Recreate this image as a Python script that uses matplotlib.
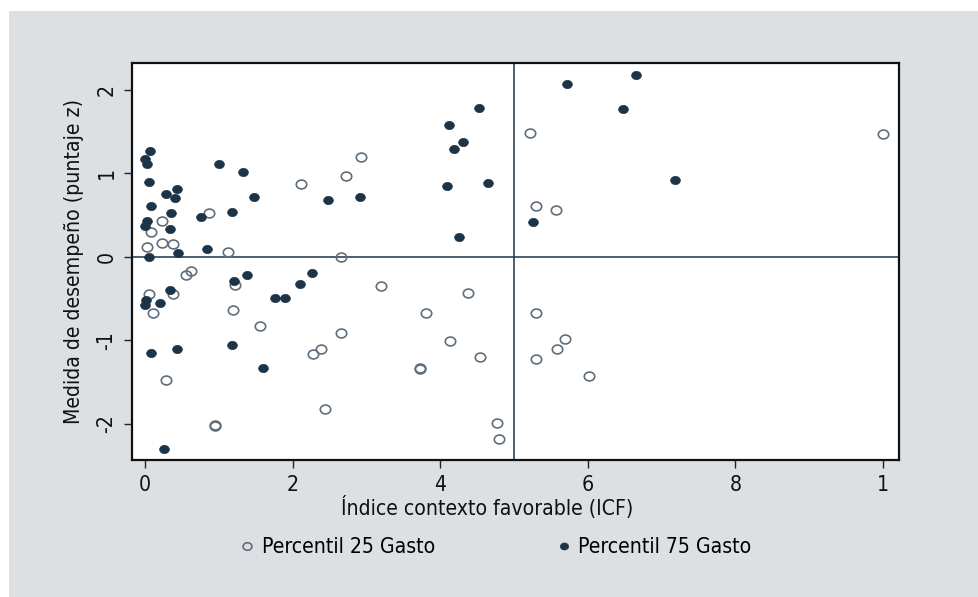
import matplotlib
matplotlib.use("Agg")
import matplotlib.pyplot as plt
from matplotlib import font_manager
from matplotlib.path import Path
from matplotlib.patches import Rectangle

# Percentil 25 Gasto (hollow markers)
p25_icf = [2.11, 0.86, 0.22, 0.08, 0.02, 0.23, 0.38, 1.12, 0.55, 0.62, 1.21, 0.05,
           0.38, 0.11, 1.19, 1.55, 2.27, 2.38, 0.28, 2.44, 0.95, 0.94, 2.93, 2.72,
           2.65, 3.20, 4.38, 3.81, 2.65, 4.13, 4.54, 3.72, 3.73, 4.77, 4.79, 5.22,
           10.0, 5.29, 5.57, 5.30, 5.69, 5.58, 5.29, 6.02]
p25_z = [0.87, 0.52, 0.43, 0.30, 0.12, 0.16, 0.15, 0.06, -0.22, -0.17, -0.34, -0.45,
         -0.45, -0.68, -0.64, -0.83, -1.17, -1.11, -1.48, -1.82, -2.02, -2.03, 1.20, 0.97,
         0.00, -0.35, -0.44, -0.68, -0.91, -1.01, -1.20, -1.33, -1.34, -1.99, -2.18, 1.48,
         1.47, 0.61, 0.56, -0.68, -0.99, -1.11, -1.23, -1.43]

# Percentil 75 Gasto (filled markers)
p75_icf = [0.06, 0.00, 0.03, 1.00, 1.33, 0.05, 0.43, 0.28, 0.40, 1.48, 2.48, 0.08,
           0.35, 0.75, 1.17, 0.02, 0.00, 0.33, 0.83, 0.45, 0.05, 1.20, 1.38, 2.10,
           2.26, 0.33, 0.01, 0.00, 0.20, 1.76, 1.89, 0.08, 0.43, 1.18, 1.59, 0.25,
           4.52, 4.12, 4.31, 4.18, 4.09, 4.65, 2.91, 4.25, 5.72, 6.65, 6.47, 7.18, 5.26]
p75_z = [1.27, 1.17, 1.11, 1.11, 1.02, 0.90, 0.81, 0.75, 0.70, 0.72, 0.68, 0.61,
         0.52, 0.48, 0.54, 0.43, 0.37, 0.33, 0.09, 0.04, 0.00, -0.29, -0.22, -0.33,
         -0.20, -0.40, -0.52, -0.58, -0.56, -0.50, -0.49, -1.15, -1.11, -1.06, -1.33, -2.30,
         1.78, 1.58, 1.37, 1.29, 0.85, 0.88, 0.71, 0.23, 2.07, 2.18, 1.77, 0.92, 0.42]

x_ticks = [0, 2, 4, 6, 8, 10]
x_ticklabels = ["0", "2", "4", "6", "8", "1"]
y_ticks = [-2, -1, 0, 1, 2]

# the original uses a narrow font, look for one
names = set(f.name for f in font_manager.fontManager.ttflist)
stretched = [f for f in font_manager.fontManager.ttflist
             if str(f.stretch) in ('condensed', 'semi-condensed', 'extra-condensed')
             and f.weight in (400, 'normal', 'regular')]
fs = 15.2
if 'Liberation Sans Narrow' in names:
    plt.rcParams['font.family'] = ['Liberation Sans Narrow', 'DejaVu Sans']
elif stretched:
    plt.rcParams['font.family'] = [stretched[0].name, 'DejaVu Sans']
    plt.rcParams['font.stretch'] = str(stretched[0].stretch)
else:
    plt.rcParams['font.family'] = ['DejaVu Sans']
    fs = 14

navy = '#1c3448'
hollow = '#5f6e7a'
bg = '#dde0e3'

# slightly flattened circle, like the original
circ = Path.unit_circle()
oval = Path(circ.vertices * [1.0, 0.85], circ.codes)

fig = plt.figure(figsize=(9.79, 5.97), dpi=100)
fig.patch.set_facecolor('white')
fig.patches.append(Rectangle((9 / 979, 0), 1, 1 - 11 / 597, transform=fig.transFigure,
                             facecolor=bg, edgecolor='none', zorder=-10))

ax = fig.add_axes([131.7 / 979, 137 / 597, 767.6 / 979, 397 / 597])
ax.set_facecolor('white')

ax.axhline(0, color=navy, lw=1.1, zorder=1)
ax.axvline(5, color=navy, lw=1.1, zorder=1)

ax.plot(p25_icf, p25_z, linestyle='none', marker=oval, markersize=7.5,
        markerfacecolor='none', markeredgecolor=hollow, markeredgewidth=1.2,
        label='Percentil 25 Gasto', zorder=3)
ax.plot(p75_icf, p75_z, linestyle='none', marker=oval, markersize=7,
        markerfacecolor=navy, markeredgecolor=navy, markeredgewidth=0.5,
        label='Percentil 75 Gasto', zorder=3)

ax.set_xlim(-0.184, 10.221)
ax.set_ylim(-2.435, 2.32)
ax.set_xticks(x_ticks)
ax.set_xticklabels(x_ticklabels)
ax.set_yticks(y_ticks)
ax.set_yticklabels([str(v) for v in y_ticks], rotation=90, va='center')

for s in ax.spines.values():
    s.set_linewidth(1.6)
    s.set_color('#111111')

ax.tick_params(axis='both', direction='out', length=6, width=1, color='#222222',
               labelsize=fs, labelcolor='#111111')
ax.tick_params(axis='x', pad=5)
ax.tick_params(axis='y', pad=5)

ax.set_ylabel('Medida de desempeño (puntaje z)', fontsize=fs, color='#111111', labelpad=9)
fig.text(487 / 979, 1 - 507 / 597, 'Índice contexto favorable (ICF)', fontsize=fs,
         color='#111111', ha='center', va='center')

fig.legend(loc='center', bbox_to_anchor=(494 / 979, 1 - 547 / 597), ncol=2,
           frameon=False, fontsize=fs, columnspacing=5.6, handletextpad=0.2,
           handlelength=1.0, markerscale=0.85)

fig.savefig('out.png', dpi=100, facecolor=fig.get_facecolor())
